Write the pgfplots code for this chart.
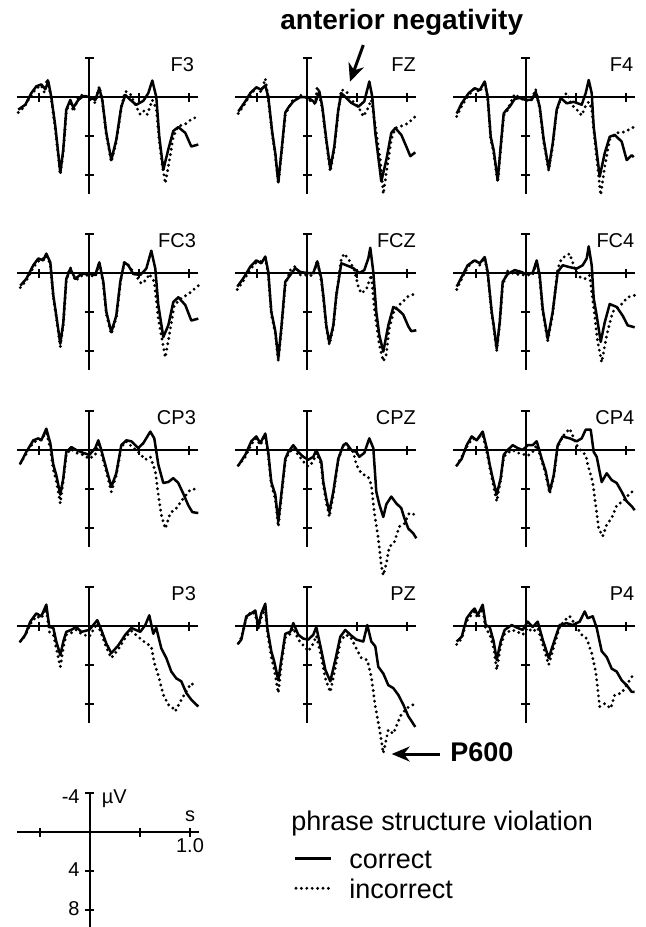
\documentclass[border=0pt]{standalone}
\usepackage{fontspec}
\setmainfont{Liberation Sans}
\usepackage{pgfplots}
\pgfplotsset{compat=1.18}
\usetikzlibrary{arrows.meta}

\tikzset{
  erpsol/.style={line width=1.25pt, black, line join=round, mark=none},
  erpdot/.style={line width=1.6pt, black, line cap=round, dash pattern=on 0pt off 2.7pt, mark=none},
  lab/.style={font=\fontsize{10}{12}\selectfont, anchor=base east, inner sep=0pt},
  slab/.style={font=\fontsize{10}{12}\selectfont, inner sep=0pt},
}
\pgfplotsset{
  erp/.style={
    anchor=origin,
    x=50pt, y=4.85pt, y dir=reverse,
    xmin=-0.726, xmax=1.09, ymin=-4, ymax=10,
    axis lines=middle,
    axis line style={-, line width=1pt, black},
    xtick={-0.5,0.5,1}, ytick={-4,4,8},
    xticklabels={}, yticklabels={},
    tick align=center, major tick length=4.5pt,
    every tick/.style={line width=1pt, black},
    clip=false,
  },
}

\begin{document}
\begin{tikzpicture}
\path[use as bounding box] (0pt,0pt) rectangle (323pt,-463.5pt);

% ---------------- Row 1 ----------------
\begin{axis}[erp, at={(44.65pt,-48.5pt)}]
\addplot[erpsol] coordinates {(-0.71,1.3) (-0.64,0.8) (-0.58,-0.4) (-0.53,-1.1) (-0.48,-1.3) (-0.44,-0.8) (-0.41,-1.6) (-0.38,0) (-0.34,3.0) (-0.29,7.8) (-0.26,5.4) (-0.23,1.3) (-0.19,0.3) (-0.16,1.1) (-0.11,0.3) (-0.06,-0.1) (0,0) (0.06,0.3) (0.1,-0.9) (0.13,0.3) (0.17,3.7) (0.22,6.5) (0.27,4.4) (0.32,1.0) (0.36,-0.2) (0.41,0.3) (0.47,0.8) (0.54,0.4) (0.59,-0.4) (0.63,-1.7) (0.67,0) (0.7,4.1) (0.74,7.5) (0.79,5.4) (0.84,3.5) (0.89,3.1) (0.96,3.7) (1.02,5.1) (1.09,4.9)};
\addplot[erpdot] coordinates {(-0.71,1.6) (-0.65,1.0) (-0.58,-0.2) (-0.53,-0.9) (-0.48,-1.2) (-0.45,-0.5) (-0.42,-1.9) (-0.38,0.2) (-0.34,3.3) (-0.29,8.0) (-0.26,5.6) (-0.23,1.5) (-0.19,0.4) (-0.16,1.5) (-0.11,0.1) (-0.06,-0.3) (0,0.2) (0.06,0.6) (0.1,-1.1) (0.13,0.4) (0.17,3.9) (0.22,6.7) (0.27,4.6) (0.32,1.1) (0.36,-0.6) (0.41,-0.3) (0.46,0.8) (0.51,1.8) (0.55,1.4) (0.58,1.8) (0.63,0.3) (0.67,1.2) (0.7,4.6) (0.73,7.0) (0.76,8.9) (0.79,7.2) (0.84,4.1) (0.89,3.0) (0.96,2.8) (1.02,2.3) (1.09,2.0)};
\node[lab] at (axis cs:1.05,-2.65) {F3};
\end{axis}

\begin{axis}[erp, at={(153.65pt,-48.5pt)}]
\addplot[erpsol] coordinates {(-0.69,1.5) (-0.62,0.45) (-0.57,-0.4) (-0.51,-1.0) (-0.46,-0.75) (-0.42,-1.2) (-0.39,0) (-0.35,3.7) (-0.32,5.8) (-0.29,8.8) (-0.26,5.8) (-0.22,1.6) (-0.19,1.1) (-0.14,0.45) (-0.07,0) (0,0) (0.04,0.3) (0.08,0.6) (0.12,-0.6) (0.15,1.0) (0.19,4.4) (0.23,7.4) (0.27,5.1) (0.31,1.3) (0.34,-0.4) (0.39,0.1) (0.44,0.6) (0.51,1.0) (0.57,0.45) (0.62,-1.6) (0.65,0) (0.68,3.7) (0.74,8.7) (0.79,6.5) (0.84,3.7) (0.88,3.2) (0.94,3.9) (0.99,5.1) (1.03,6.1) (1.08,5.7)};
\addplot[erpdot] coordinates {(-0.69,1.7) (-0.62,0.6) (-0.57,-0.2) (-0.51,-1.0) (-0.46,-0.5) (-0.42,-1.9) (-0.39,0.2) (-0.35,3.9) (-0.32,6.0) (-0.29,8.9) (-0.26,6.0) (-0.22,1.8) (-0.19,1.2) (-0.14,0.2) (-0.07,-0.2) (0,0.1) (0.04,0.5) (0.08,0.7) (0.1,-1.1) (0.15,1.2) (0.19,4.6) (0.23,7.7) (0.27,5.3) (0.31,1.4) (0.34,-0.75) (0.39,-0.6) (0.44,0.3) (0.51,1.0) (0.56,2.0) (0.6,1.3) (0.64,0.3) (0.68,3.0) (0.73,6.5) (0.76,10.0) (0.79,7.8) (0.84,4.4) (0.88,3.2) (0.94,3.0) (1.01,2.7) (1.08,2.0)};
\node[lab] at (axis cs:1.09,-2.65) {FZ};
\end{axis}

\begin{axis}[erp, at={(262.85pt,-48.5pt)}]
\addplot[erpsol] coordinates {(-0.69,1.7) (-0.64,0.65) (-0.57,-0.4) (-0.51,-0.9) (-0.46,-0.7) (-0.41,-1.6) (-0.38,0) (-0.35,4.1) (-0.32,5.5) (-0.28,8.6) (-0.25,5.1) (-0.22,1.7) (-0.19,1.3) (-0.16,1.0) (-0.11,0.2) (-0.06,0.1) (0,0.3) (0.06,0.3) (0.1,-0.55) (0.14,1.0) (0.18,4.4) (0.23,7.4) (0.27,4.8) (0.31,1.3) (0.35,0.1) (0.41,0.65) (0.48,0.5) (0.56,0.8) (0.6,-0.4) (0.63,-1.75) (0.66,-0.4) (0.68,3.1) (0.74,8.2) (0.79,5.8) (0.84,4.1) (0.89,3.9) (0.96,4.6) (1.01,6.5) (1.06,6.0) (1.08,6.2)};
\addplot[erpdot] coordinates {(-0.69,2.0) (-0.64,0.9) (-0.57,-0.2) (-0.51,-0.9) (-0.46,-0.5) (-0.41,-1.6) (-0.38,0.1) (-0.35,4.3) (-0.32,5.8) (-0.28,8.8) (-0.25,5.3) (-0.22,1.9) (-0.19,1.5) (-0.16,0.8) (-0.11,-0.3) (-0.06,0.1) (0,0.4) (0.06,0.2) (0.1,-0.8) (0.14,1.2) (0.18,4.6) (0.23,7.6) (0.27,5.0) (0.31,1.4) (0.35,0.2) (0.41,-0.4) (0.46,0.8) (0.52,1.4) (0.56,1.9) (0.6,0.9) (0.63,0.5) (0.66,1.2) (0.69,4.4) (0.75,10.1) (0.79,7.2) (0.84,4.4) (0.91,3.7) (0.99,3.6) (1.08,3.1)};
\node[lab] at (axis cs:1.08,-2.65) {F4};
\end{axis}

% ---------------- Row 2 ----------------
\begin{axis}[erp, at={(44.65pt,-136.5pt)}]
\addplot[erpsol] coordinates {(-0.69,1.3) (-0.63,0.6) (-0.56,-0.8) (-0.51,-1.5) (-0.46,-1.3) (-0.43,-2.0) (-0.39,-1.1) (-0.36,2.3) (-0.33,4.4) (-0.29,7.3) (-0.26,5.1) (-0.23,0.6) (-0.19,-0.45) (-0.14,0.6) (-0.08,0.1) (0,0.1) (0.06,0.2) (0.1,-1.1) (0.14,0.9) (0.17,4.0) (0.22,6.1) (0.27,4.4) (0.31,0.9) (0.35,-1.1) (0.39,-0.8) (0.44,0.1) (0.51,0.2) (0.57,-0.45) (0.62,-2.3) (0.66,-0.45) (0.69,3.3) (0.74,6.6) (0.79,5.4) (0.84,3.0) (0.89,2.5) (0.96,3.3) (1.02,4.9) (1.09,4.7)};
\addplot[erpdot] coordinates {(-0.69,1.5) (-0.63,0.8) (-0.56,-0.6) (-0.51,-1.2) (-0.46,-1.5) (-0.43,-1.8) (-0.39,-0.9) (-0.36,2.5) (-0.33,4.6) (-0.29,7.6) (-0.26,5.3) (-0.23,0.8) (-0.19,-0.6) (-0.14,0.8) (-0.08,0.3) (0,0.2) (0.06,0.4) (0.1,-1.0) (0.14,1.1) (0.17,4.2) (0.22,6.3) (0.27,4.6) (0.31,1.0) (0.35,-1.1) (0.39,-0.8) (0.45,0) (0.52,1.1) (0.57,0.7) (0.6,0.1) (0.65,0.9) (0.69,4.7) (0.76,8.7) (0.8,6.4) (0.85,3.3) (0.92,2.6) (1.0,2.1) (1.09,1.3)};
\node[lab] at (axis cs:1.07,-2.65) {FC3};
\end{axis}

\begin{axis}[erp, at={(153.65pt,-136.5pt)}]
\addplot[erpsol] coordinates {(-0.70,1.4) (-0.64,0.55) (-0.57,-0.65) (-0.51,-1.3) (-0.46,-1.0) (-0.42,-1.7) (-0.39,-0.1) (-0.36,4.0) (-0.32,6.0) (-0.29,8.8) (-0.26,5.7) (-0.22,0.9) (-0.17,0.2) (-0.12,-0.5) (-0.07,-0.1) (0,0) (0.06,0) (0.1,-1.2) (0.14,0.55) (0.16,2.3) (0.19,5.4) (0.22,7.2) (0.26,5.4) (0.29,2.3) (0.34,-1.0) (0.39,-0.8) (0.46,-0.5) (0.52,0) (0.57,-0.3) (0.61,-1.5) (0.63,-2.6) (0.66,-0.1) (0.69,4.0) (0.72,6.4) (0.76,8.1) (0.81,5.4) (0.86,3.5) (0.91,3.8) (0.96,4.3) (1.01,5.5) (1.04,6.0) (1.09,5.9)};
\addplot[erpdot] coordinates {(-0.70,1.7) (-0.64,0.8) (-0.57,-0.4) (-0.51,-1.1) (-0.46,-1.2) (-0.42,-1.5) (-0.39,0.1) (-0.36,4.2) (-0.32,6.2) (-0.29,9.0) (-0.26,5.9) (-0.22,1.2) (-0.17,-0.3) (-0.12,-0.7) (-0.07,0.2) (0,0.2) (0.06,0.3) (0.1,-1.3) (0.14,0.8) (0.16,2.5) (0.19,5.6) (0.22,7.4) (0.26,5.6) (0.29,2.4) (0.34,-1.5) (0.37,-2.0) (0.42,-1.3) (0.47,-0.3) (0.51,1.4) (0.54,2.1) (0.59,1.7) (0.64,0.2) (0.67,3.6) (0.72,7.4) (0.76,9.1) (0.79,8.4) (0.82,5.7) (0.87,3.8) (0.94,3.1) (1.01,2.4) (1.09,2.1)};
\node[lab] at (axis cs:1.09,-2.65) {FCZ};
\end{axis}

\begin{axis}[erp, at={(262.85pt,-136.5pt)}]
\addplot[erpsol] coordinates {(-0.69,1.4) (-0.64,0.4) (-0.58,-0.8) (-0.51,-1.3) (-0.46,-1.0) (-0.41,-1.65) (-0.38,-0.1) (-0.34,4.0) (-0.32,5.4) (-0.29,7.8) (-0.26,5.1) (-0.23,0.9) (-0.18,0.1) (-0.11,-0.3) (-0.04,-0.1) (0,0.1) (0.07,0) (0.11,-1.3) (0.14,0.25) (0.17,3.7) (0.22,6.8) (0.27,4.0) (0.32,-0.1) (0.37,-0.8) (0.44,-0.6) (0.51,-0.45) (0.57,-0.8) (0.61,-1.5) (0.63,-2.75) (0.66,-0.8) (0.68,2.6) (0.71,4.4) (0.75,7.1) (0.79,5.1) (0.84,3.2) (0.91,3.5) (0.97,4.4) (1.02,5.4) (1.09,5.6)};
\addplot[erpdot] coordinates {(-0.69,1.7) (-0.64,0.6) (-0.58,-0.6) (-0.51,-1.4) (-0.46,-0.8) (-0.41,-1.6) (-0.38,0.1) (-0.34,4.2) (-0.32,5.6) (-0.29,8.0) (-0.26,5.3) (-0.23,1.2) (-0.18,-0.2) (-0.11,0.1) (-0.04,0.2) (0,0.2) (0.07,0.2) (0.11,-1.1) (0.14,0.5) (0.17,3.9) (0.22,7.0) (0.27,4.2) (0.32,-0.45) (0.36,-1.5) (0.44,-2.0) (0.49,-0.45) (0.54,0.4) (0.59,0.6) (0.64,0.25) (0.69,4.4) (0.72,7.1) (0.76,9.2) (0.81,6.4) (0.87,4.0) (0.96,3.2) (1.02,2.5) (1.09,2.3)};
\node[lab] at (axis cs:1.09,-2.65) {FC4};
\end{axis}

% ---------------- Row 3 ----------------
\begin{axis}[erp, at={(44.65pt,-225pt)}]
\addplot[erpsol] coordinates {(-0.69,1.4) (-0.63,0.2) (-0.56,-1.0) (-0.51,-1.2) (-0.48,-1.0) (-0.43,-2.2) (-0.39,-0.7) (-0.36,1.5) (-0.33,2.6) (-0.29,4.6) (-0.26,2.9) (-0.23,0.2) (-0.18,-0.3) (-0.13,0) (-0.06,0.3) (0,0.5) (0.06,-0.2) (0.09,-1.0) (0.12,0) (0.17,1.9) (0.22,3.8) (0.27,2.4) (0.32,-0.5) (0.37,-1.0) (0.42,-0.9) (0.49,-0.2) (0.54,-0.7) (0.61,-1.9) (0.65,-1.2) (0.69,1.5) (0.74,3.4) (0.79,3.3) (0.84,2.9) (0.89,3.4) (0.94,4.5) (0.99,5.7) (1.03,6.4) (1.09,6.5)};
\addplot[erpdot] coordinates {(-0.69,1.4) (-0.63,0.4) (-0.56,-0.8) (-0.51,-1.0) (-0.48,-1.1) (-0.43,-1.8) (-0.39,-0.2) (-0.36,2.0) (-0.33,3.2) (-0.29,5.5) (-0.26,3.1) (-0.23,0.4) (-0.18,-0.1) (-0.13,0.3) (-0.06,0.5) (0,0.9) (0.06,0.5) (0.09,-0.6) (0.12,0.3) (0.17,2.2) (0.22,4.3) (0.27,2.6) (0.32,-0.3) (0.37,-0.9) (0.42,-0.4) (0.49,0.2) (0.56,1.0) (0.61,0.7) (0.66,2.2) (0.69,4.6) (0.72,6.7) (0.76,8.1) (0.81,6.5) (0.87,6.0) (0.94,5.0) (1.01,4.1) (1.07,4.0)};
\node[lab] at (axis cs:1.07,-2.65) {CP3};
\end{axis}

\begin{axis}[erp, at={(153.65pt,-225pt)}]
\addplot[erpsol] coordinates {(-0.69,1.6) (-0.62,0.5) (-0.56,-0.9) (-0.51,-1.4) (-0.47,-0.7) (-0.42,-1.7) (-0.39,0.3) (-0.36,3.3) (-0.32,4.6) (-0.29,7.4) (-0.26,4.6) (-0.22,0.9) (-0.19,0.2) (-0.14,-0.5) (-0.09,0.2) (-0.04,0.7) (0.01,1.0) (0.06,0.7) (0.09,0) (0.14,1.2) (0.16,3.3) (0.19,5.0) (0.22,6.4) (0.26,4.3) (0.31,0.9) (0.36,-0.5) (0.39,-0.7) (0.44,0) (0.49,0.2) (0.52,0.7) (0.57,0.3) (0.62,-1.2) (0.66,-0.2) (0.69,4.3) (0.72,5.6) (0.76,6.9) (0.79,5.6) (0.84,4.8) (0.89,5.5) (0.94,6.0) (0.97,7.0) (1.01,8.1) (1.06,8.6) (1.09,9.1)};
\addplot[erpdot] coordinates {(-0.69,1.6) (-0.62,0.7) (-0.56,-0.6) (-0.51,-1.2) (-0.47,-0.5) (-0.42,-1.5) (-0.39,0.5) (-0.36,3.6) (-0.32,5.0) (-0.29,7.9) (-0.26,4.9) (-0.22,1.1) (-0.19,0.4) (-0.14,-0.2) (-0.09,0.5) (-0.04,1.2) (0.01,1.7) (0.06,1.2) (0.09,0.3) (0.14,1.5) (0.16,3.6) (0.19,5.4) (0.22,6.9) (0.26,4.6) (0.31,1.0) (0.36,-0.5) (0.41,-0.2) (0.46,0.2) (0.49,1.5) (0.54,2.4) (0.61,2.8) (0.64,3.6) (0.67,6.4) (0.71,9.1) (0.74,11.9) (0.76,12.9) (0.79,11.7) (0.82,10.0) (0.87,9.5) (0.92,7.9) (0.97,7.6) (1.02,6.5) (1.09,6.7)};
\node[lab] at (axis cs:1.09,-2.65) {CPZ};
\end{axis}

\begin{axis}[erp, at={(262.85pt,-225pt)}]
\addplot[erpsol] coordinates {(-0.69,1.6) (-0.64,0.9) (-0.59,-0.5) (-0.54,-1.4) (-0.49,-1.0) (-0.43,-1.9) (-0.39,-0.2) (-0.36,1.5) (-0.33,2.9) (-0.29,4.6) (-0.25,2.9) (-0.22,0.5) (-0.18,0) (-0.13,-0.5) (-0.08,-0.2) (-0.03,0) (0.02,-0.5) (0.07,-0.5) (0.11,-0.9) (0.16,0.9) (0.2,2.2) (0.24,4.3) (0.28,2.6) (0.32,-0.5) (0.37,-1.4) (0.44,-1.2) (0.51,-0.9) (0.56,-1.2) (0.6,-2.1) (0.65,-2.1) (0.68,0.2) (0.71,0.7) (0.76,3.3) (0.81,2.4) (0.86,3.1) (0.91,3.4) (0.96,4.3) (1.01,5.3) (1.06,5.8) (1.09,6.2)};
\addplot[erpdot] coordinates {(-0.69,1.6) (-0.64,0.7) (-0.59,-0.3) (-0.54,-1.1) (-0.49,-1.2) (-0.43,-1.5) (-0.39,0.1) (-0.36,1.8) (-0.33,3.3) (-0.29,5.3) (-0.25,3.1) (-0.22,0.7) (-0.18,0.3) (-0.13,0) (-0.08,0.3) (-0.03,0.4) (0.02,0.6) (0.07,0.2) (0.11,-0.5) (0.16,1.1) (0.2,2.5) (0.24,4.5) (0.28,2.8) (0.32,-0.3) (0.37,-1.4) (0.44,-2.2) (0.51,-0.5) (0.56,0.2) (0.6,0.5) (0.62,1.5) (0.67,3.3) (0.7,5.7) (0.73,8.1) (0.77,8.9) (0.81,7.7) (0.86,7.0) (0.91,5.7) (0.97,5.3) (1.04,4.5) (1.09,4.1)};
\node[lab] at (axis cs:1.09,-2.65) {CP4};
\end{axis}

% ---------------- Row 4 ----------------
\begin{axis}[erp, at={(44.65pt,-313pt)}]
\addplot[erpsol] coordinates {(-0.69,1.6) (-0.64,0.9) (-0.59,-0.45) (-0.53,-1.3) (-0.48,-1.0) (-0.43,-2.2) (-0.4,0.1) (-0.36,0.2) (-0.33,1.6) (-0.29,3.0) (-0.26,1.6) (-0.23,0.6) (-0.18,0.4) (-0.13,0.1) (-0.08,0.6) (0,0.4) (0.04,-0.1) (0.08,-0.6) (0.12,0.4) (0.17,1.8) (0.22,2.8) (0.29,2.0) (0.36,0.9) (0.42,0.2) (0.51,0.6) (0.56,-0.1) (0.6,-1.1) (0.64,0.8) (0.67,0.2) (0.72,2.3) (0.77,3.3) (0.82,4.7) (0.87,5.4) (0.92,5.7) (0.97,6.9) (1.02,7.6) (1.09,8.3)};
\addplot[erpdot] coordinates {(-0.69,1.6) (-0.64,1.0) (-0.59,-0.2) (-0.53,-1.0) (-0.48,-0.8) (-0.43,-1.8) (-0.4,0.6) (-0.36,0.9) (-0.33,2.3) (-0.29,4.2) (-0.26,2.2) (-0.23,0.9) (-0.18,0.7) (-0.13,0.4) (-0.08,0.8) (0,1.1) (0.04,0.4) (0.08,-0.3) (0.12,0.8) (0.17,2.2) (0.22,3.3) (0.29,2.4) (0.36,1.2) (0.42,0.5) (0.51,1.3) (0.57,1.8) (0.62,2.1) (0.65,3.8) (0.69,5.1) (0.74,7.1) (0.79,8.1) (0.83,8.4) (0.86,8.8) (0.91,7.8) (0.96,6.9) (1.02,5.9) (1.07,6.3)};
\node[lab] at (axis cs:1.07,-2.65) {P3};
\end{axis}

\begin{axis}[erp, at={(153.65pt,-313pt)}]
\addplot[erpsol] coordinates {(-0.69,1.8) (-0.66,1.4) (-0.61,-1.0) (-0.56,-1.3) (-0.52,-1.6) (-0.49,0.1) (-0.46,-1.3) (-0.42,-2.3) (-0.4,0.2) (-0.36,2.6) (-0.33,3.7) (-0.29,5.6) (-0.26,3.5) (-0.22,0.8) (-0.17,0.6) (-0.14,-0.3) (-0.09,0.9) (-0.04,1.3) (0.01,1.4) (0.06,0.9) (0.09,0.1) (0.14,2.5) (0.18,4.5) (0.23,5.7) (0.28,3.5) (0.33,1.1) (0.38,0.4) (0.43,0.9) (0.49,1.4) (0.56,1.6) (0.6,-0.1) (0.64,1.6) (0.68,2.1) (0.71,4.2) (0.76,4.9) (0.81,6.1) (0.86,6.4) (0.91,7.1) (0.96,8.1) (1.01,9.3) (1.08,10.4)};
\addplot[erpdot] coordinates {(-0.69,1.8) (-0.66,1.2) (-0.61,-0.8) (-0.56,-1.5) (-0.52,-1.2) (-0.49,0.2) (-0.46,-0.9) (-0.42,-1.8) (-0.4,0.6) (-0.36,3.2) (-0.33,4.5) (-0.29,6.9) (-0.26,4.0) (-0.22,1.2) (-0.17,0.8) (-0.14,0.2) (-0.09,1.4) (-0.04,2.0) (0.01,2.6) (0.06,1.8) (0.09,1.0) (0.14,3.2) (0.18,5.4) (0.23,6.8) (0.28,4.3) (0.33,1.6) (0.38,0.9) (0.43,1.1) (0.48,2.1) (0.54,3.3) (0.6,3.5) (0.64,5.2) (0.68,8.3) (0.73,11.1) (0.76,13.1) (0.81,10.7) (0.86,11.1) (0.93,9.3) (0.99,8.5) (1.06,8.1)};
\node[lab] at (axis cs:1.09,-2.65) {PZ};
\end{axis}

\begin{axis}[erp, at={(262.85pt,-313pt)}]
\addplot[erpsol] coordinates {(-0.69,1.6) (-0.64,1.1) (-0.59,-0.8) (-0.54,-1.5) (-0.51,-1.8) (-0.48,-1.1) (-0.43,-2.2) (-0.4,-0.1) (-0.36,0.1) (-0.32,1.6) (-0.29,3.5) (-0.25,1.6) (-0.21,0.4) (-0.14,-0.1) (-0.08,0.2) (-0.03,0.4) (0.02,-0.45) (0.07,0.1) (0.12,-0.45) (0.17,1.4) (0.23,3.3) (0.29,1.4) (0.34,-0.1) (0.41,-0.3) (0.47,-0.1) (0.54,-0.45) (0.59,-1.5) (0.62,-0.8) (0.67,-1.0) (0.71,0.2) (0.76,2.6) (0.81,3.2) (0.86,4.4) (0.91,4.7) (0.96,5.6) (1.01,6.1) (1.06,6.8) (1.09,6.8)};
\addplot[erpdot] coordinates {(-0.69,1.9) (-0.64,1.3) (-0.59,-0.5) (-0.54,-1.2) (-0.51,-1.5) (-0.48,-0.8) (-0.43,-1.8) (-0.4,0.3) (-0.36,0.8) (-0.32,2.3) (-0.29,4.5) (-0.25,2.0) (-0.21,0.8) (-0.14,0.4) (-0.08,0.6) (-0.03,0.9) (0.02,0.2) (0.07,0.6) (0.12,0.2) (0.17,1.9) (0.23,4.0) (0.29,1.8) (0.34,0.1) (0.39,-0.6) (0.44,-1.0) (0.51,0.1) (0.56,0.9) (0.61,1.3) (0.66,2.8) (0.7,4.7) (0.74,8.3) (0.79,8.0) (0.85,8.5) (0.89,7.1) (0.96,6.9) (1.02,5.9) (1.07,5.1)};
\node[lab] at (axis cs:1.09,-2.65) {P4};
\end{axis}

% ---------------- Scale panel ----------------
\begin{axis}[erp, at={(45pt,-416pt)}]
\node[slab, anchor=base east] at (axis cs:-0.10,-2.9) {-4};
\node[slab, anchor=base west] at (axis cs:0.115,-2.9) {\textmu V};
\node[slab, anchor=base east] at (axis cs:-0.10,4.6) {4};
\node[slab, anchor=base east] at (axis cs:-0.10,8.6) {8};
\node[slab, anchor=base] at (axis cs:1.0,-1.06) {s};
\node[slab, anchor=base] at (axis cs:1.0,2.13) {1.0};
\end{axis}

% ---------------- Annotations ----------------
\node[anchor=base west, inner sep=0pt, font=\bfseries\fontsize{14}{16}\selectfont] at (140pt,-14.65pt) {anterior negativity};
\draw[line width=1.5pt, -{Stealth[length=9pt, width=8pt]}] (181.65pt,-22.5pt) -- (175pt,-40.85pt);
\node[anchor=base west, inner sep=0pt, font=\bfseries\fontsize{13.5}{16}\selectfont] at (225pt,-380.85pt) {P600};
\draw[line width=1.5pt, -{Stealth[length=9pt, width=7.5pt]}] (220pt,-377pt) -- (195.85pt,-377pt);

% ---------------- Legend ----------------
\node[anchor=base west, inner sep=0pt, font=\fontsize{13.5}{16}\selectfont] at (145.5pt,-415.3pt) {phrase structure violation};
\draw[erpsol] (147.5pt,-429.15pt) -- (165.5pt,-429.15pt);
\node[anchor=base west, inner sep=0pt, font=\fontsize{13.5}{16}\selectfont] at (174.5pt,-434.15pt) {correct};
\draw[erpdot] (148pt,-444.15pt) -- (165.5pt,-444.15pt);
\node[anchor=base west, inner sep=0pt, font=\fontsize{13.5}{16}\selectfont] at (174.5pt,-449.15pt) {incorrect};
\end{tikzpicture}
\end{document}
